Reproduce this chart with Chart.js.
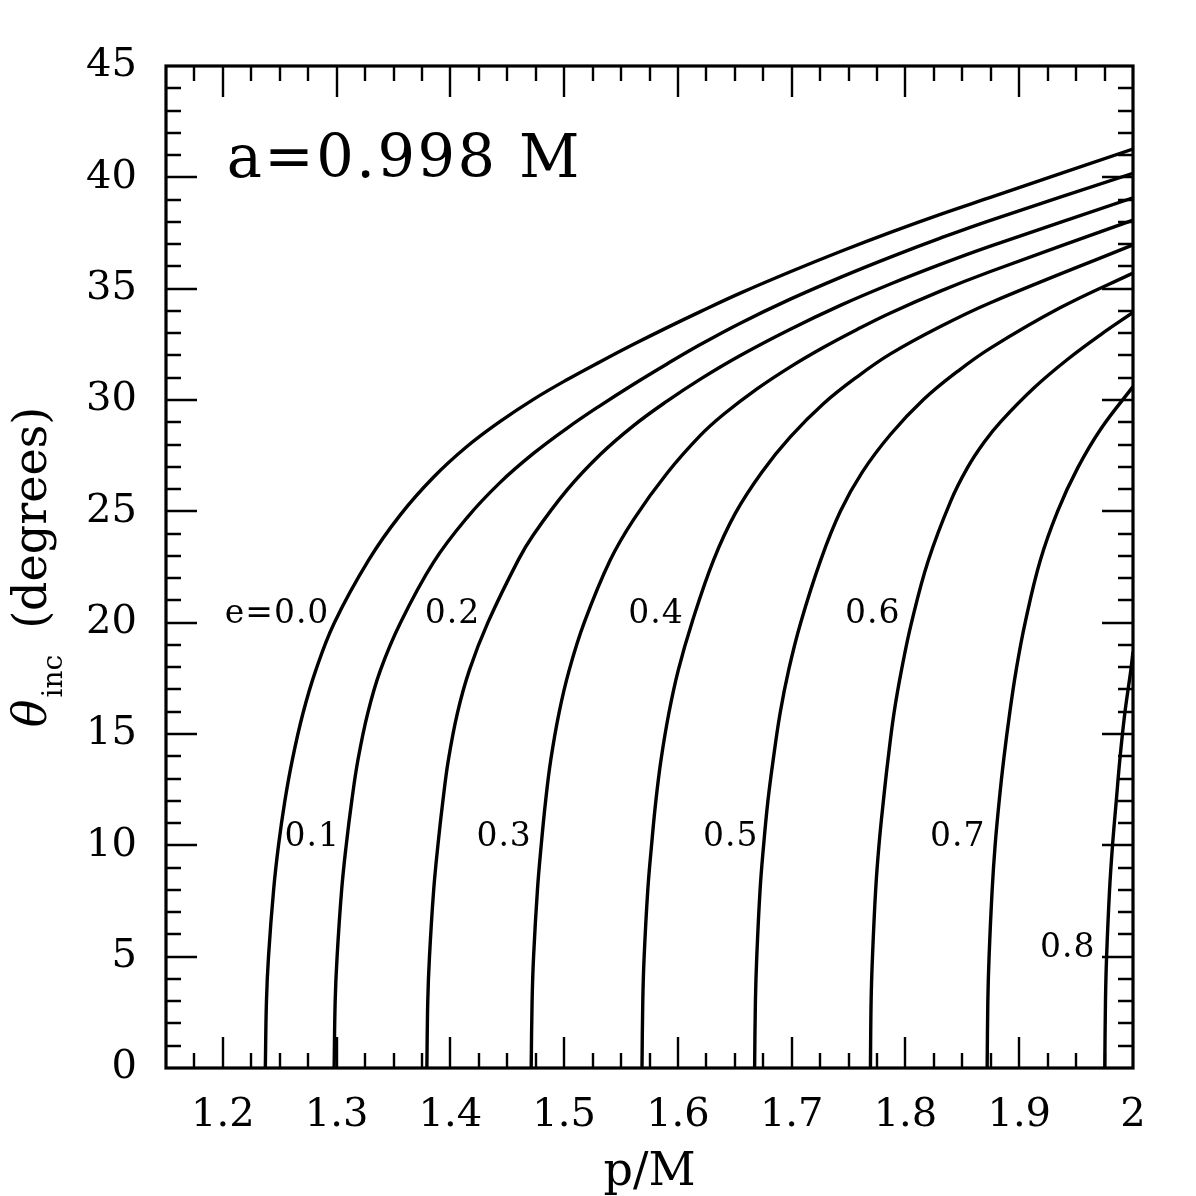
<!DOCTYPE html>
<html>
<head>
<meta charset="utf-8">
<script src="https://cdn.jsdelivr.net/npm/chart.js@4.4.1/dist/chart.umd.min.js"></script>
<style>
html,body{margin:0;padding:0;background:#fff;}
#wrap{width:1196px;height:1196px;position:relative;}
</style>
</head>
<body>
<div id="wrap"><canvas id="c"></canvas></div>
<script>
// ---- data (p/M, theta_inc in degrees) ----
const e00_p = [1.2373,1.2383,1.2401,1.2446,1.2489,1.2545,1.2610,1.2704,1.2817,1.2980,1.3281,1.3558,1.3851,1.4145,1.4438,1.4730,1.5024,1.5317,1.5610,1.5904,1.6197,1.6548,1.6988,1.7428,1.7868,1.8307,1.8747,2.0];
const e00_t = [0,3,5,8,10,12,13.83,15.93,17.87,20,22.81,24.83,26.53,27.91,29.04,30.03,30.91,31.72,32.5,33.25,33.97,34.8,35.76,36.67,37.53,38.34,39.1,41.27];

const e01_p = [1.2978,1.2987,1.3004,1.3044,1.3084,1.3133,1.3187,1.3273,1.3385,1.3561,1.3851,1.4145,1.4438,1.4730,1.5024,1.5317,1.5610,1.5904,1.6197,1.6548,1.6988,1.7428,1.7868,1.8307,1.8747,2.0];
const e01_t = [0,3,5,8,10,12,13.83,15.93,17.87,20,22.71,24.71,26.3,27.6,28.73,29.75,30.71,31.62,32.49,33.45,34.53,35.51,36.42,37.27,38.07,40.18];

const e02_p = [1.3793,1.3801,1.3816,1.3853,1.3890,1.3934,1.3982,1.4061,1.4167,1.4329,1.4596,1.4730,1.5024,1.5317,1.5610,1.5904,1.6197,1.6548,1.6988,1.7428,1.7868,1.8307,1.8747,2.0];
const e02_t = [0,3,5,8,10,12,13.83,15.93,17.87,20,22.81,23.95,25.95,27.55,28.85,29.95,30.94,32.0,33.18,34.25,35.21,36.09,36.91,39.08];

const e03_p = [1.4710,1.4718,1.4731,1.4765,1.4798,1.4837,1.4882,1.4954,1.5044,1.5176,1.5405,1.5610,1.5904,1.6197,1.6402,1.6695,1.6988,1.7281,1.7575,1.7868,1.8307,1.8747,2.0];
const e03_t = [0,3,5,8,10,12,13.83,15.93,17.87,20,22.81,24.63,26.71,28.41,29.36,30.5,31.49,32.37,33.17,33.91,34.89,35.77,38.08];

const e04_p = [1.5684,1.5691,1.5703,1.5735,1.5768,1.5806,1.5851,1.5920,1.6003,1.6123,1.6313,1.6504,1.6739,1.6988,1.7281,1.7575,1.7868,1.8307,1.8747,2.0];
const e04_t = [0,3,5,8,10,12,13.83,15.93,17.87,20,22.81,24.91,26.77,28.34,29.84,31.04,32.07,33.3,34.37,36.97];

const e05_p = [1.6674,1.6681,1.6693,1.6722,1.6753,1.6791,1.6837,1.6898,1.6973,1.7079,1.7255,1.7428,1.7619,1.7868,1.8161,1.8454,1.8747,1.9363,2.0];
const e05_t = [0,3,5,8,10,12,13.83,15.93,17.87,20,22.81,25.0,26.75,28.45,30.03,31.27,32.33,34.15,35.7];

const e06_p = [1.7692,1.7698,1.7710,1.7738,1.7767,1.7806,1.7846,1.7899,1.7965,1.8053,1.8198,1.8397,1.8544,1.8691,1.8838,1.9131,1.9426,1.9720,2.0];
const e06_t = [0,3,5,8,10,12,13.83,15.93,17.87,20,22.75,25.45,26.95,28.1,29.03,30.55,31.83,32.95,33.93];

const e07_p = [1.8718,1.8724,1.8735,1.8762,1.8788,1.8824,1.8863,1.8916,1.8973,1.9052,1.9184,1.9337,1.9514,1.9720,2.0];
const e07_t = [0,3,5,8,10,12,13.83,15.93,17.87,20,22.78,25.0,26.95,28.72,30.6];

const e08_p = [1.9752,1.9758,1.9768,1.9794,1.9820,1.9853,1.9884,1.9928,1.9981,2.0];
const e08_t = [0,3,5,8,10,12,13.83,15.93,17.87,18.7];

const seriesP = [e00_p,e01_p,e02_p,e03_p,e04_p,e05_p,e06_p,e07_p,e08_p];
const seriesT = [e00_t,e01_t,e02_t,e03_t,e04_t,e05_t,e06_t,e07_t,e08_t];

// curve labels (text, right-end p, baseline theta)
const curveLabels = ['e=0.0','0.1','0.2','0.3','0.4','0.5','0.6','0.7','0.8'];
const curveLabelP = [1.2936,1.3030,1.4262,1.4716,1.6050,1.6709,1.7956,1.8703,1.9671];
const curveLabelT = [20,9.95,20,9.95,20,9.95,20,9.95,5];

const annotText = 'a=0.998 M';
const annotP = 1.2033, annotT = 40;

const xTickValues = [1.2,1.3,1.4,1.5,1.6,1.7,1.8,1.9,2.0];
const xTickLabels = ['1.2','1.3','1.4','1.5','1.6','1.7','1.8','1.9','2'];
const yTickValues = [0,5,10,15,20,25,30,35,40,45];
const yTickLabels = ['0','5','10','15','20','25','30','35','40','45'];

const xMin = 1.15, xMax = 2.0, yMin = 0, yMax = 45;
const xMinorStep = 0.025, yMinorStep = 1;

const SERIF = '"DejaVu Serif", "Liberation Serif", serif';

const datasets = seriesP.map((ps, i) => ({
  data: ps.map((p, j) => ({x: p, y: seriesT[i][j]})),
  borderColor: '#000',
  borderWidth: 3.4,
  pointRadius: 0,
  fill: false,
  tension: 0.4,
  showLine: true
}));

const decor = {
  id: 'decor',
  afterDraw(chart) {
    const {ctx, chartArea: a, scales: {x, y}} = chart;
    ctx.save();
    ctx.strokeStyle = '#000';
    ctx.fillStyle = '#000';
    // inward ticks on all four sides
    ctx.lineWidth = 2.4;
    ctx.beginPath();
    const nx = Math.round((xMax - xMin) / xMinorStep);
    for (let i = 1; i < nx; i++) {
      const v = xMin + i * xMinorStep;
      const major = Math.abs(v * 10 - Math.round(v * 10)) < 1e-6;
      const L = major ? 31 : 15;
      const px = Math.round(x.getPixelForValue(v));
      ctx.moveTo(px, a.bottom); ctx.lineTo(px, a.bottom - L);
      ctx.moveTo(px, a.top); ctx.lineTo(px, a.top + L);
    }
    const ny = Math.round((yMax - yMin) / yMinorStep);
    for (let i = 1; i < ny; i++) {
      const v = yMin + i * yMinorStep;
      const major = (i % 5) === 0;
      const L = major ? 31 : 15;
      const py = Math.round(y.getPixelForValue(v));
      ctx.moveTo(a.left, py); ctx.lineTo(a.left + L, py);
      ctx.moveTo(a.right, py); ctx.lineTo(a.right - L, py);
    }
    ctx.stroke();
    // frame
    ctx.lineWidth = 3.2;
    ctx.strokeRect(a.left, a.top, a.right - a.left, a.bottom - a.top);

    // curve labels
    ctx.font = '33px ' + SERIF;
    ctx.textAlign = 'right';
    ctx.textBaseline = 'alphabetic';
    ctx.letterSpacing = '1px';
    curveLabels.forEach((t, i) => {
      ctx.fillText(t, x.getPixelForValue(curveLabelP[i]), y.getPixelForValue(curveLabelT[i]));
    });
    // annotation
    ctx.font = '59px ' + SERIF;
    ctx.textAlign = 'left';
    ctx.letterSpacing = '2.5px';
    ctx.fillText(annotText, x.getPixelForValue(annotP), y.getPixelForValue(annotT));
    ctx.letterSpacing = '0px';

    // x axis title
    ctx.font = '46px ' + SERIF;
    ctx.textAlign = 'center';
    ctx.fillText('p/M', (a.left + a.right) / 2, a.bottom + 117);

    // y axis title: theta_inc (degrees)
    const fMain = '46px ' + SERIF;
    const fIt = 'italic 46px ' + SERIF;
    const fSub = '28px ' + SERIF;
    ctx.font = fIt; const wT = ctx.measureText('\u03B8').width;
    ctx.font = fSub; const wS = ctx.measureText('inc').width;
    ctx.font = fMain; const wD = ctx.measureText('(degrees)').width;
    const gap1 = 2, gap2 = 26;
    const total = wT + gap1 + wS + gap2 + wD;
    const cy = (a.top + a.bottom) / 2;
    ctx.translate(46, cy + total / 2);
    ctx.rotate(-Math.PI / 2);
    ctx.textAlign = 'left';
    ctx.font = fIt; ctx.fillText('\u03B8', 0, 0);
    ctx.font = fSub; ctx.fillText('inc', wT + gap1, 16);
    ctx.font = fMain; ctx.fillText('(degrees)', wT + gap1 + wS + gap2, 0);
    ctx.restore();
  }
};

new Chart(document.getElementById('c'), {
  type: 'line',
  data: {datasets},
  options: {
    responsive: true,
    maintainAspectRatio: false,
    devicePixelRatio: 1,
    animation: false,
    layout: {padding: {top: 66, right: 63, left: 0, bottom: 0}},
    plugins: {legend: {display: false}, tooltip: {enabled: false}},
    scales: {
      x: {
        type: 'linear', min: xMin, max: xMax,
        grid: {display: false, drawTicks: false},
        border: {display: false},
        afterBuildTicks: s => { s.ticks = xTickValues.map(v => ({value: v})); },
        afterFit: s => { s.height = 128; },
        ticks: {
          autoSkip: false, maxRotation: 0, minRotation: 0,
          color: '#000', padding: 24,
          font: {family: SERIF, size: 40},
          callback: (v, i) => xTickLabels[i]
        }
      },
      y: {
        type: 'linear', min: yMin, max: yMax,
        grid: {display: false, drawTicks: false},
        border: {display: false},
        afterBuildTicks: s => { s.ticks = yTickValues.map(v => ({value: v})); },
        afterFit: s => { s.width = 166; },
        ticks: {
          autoSkip: false, color: '#000', padding: 29,
          font: {family: SERIF, size: 40},
          callback: (v, i) => yTickLabels[i]
        }
      }
    }
  },
  plugins: [decor]
});
</script>
</body>
</html>
